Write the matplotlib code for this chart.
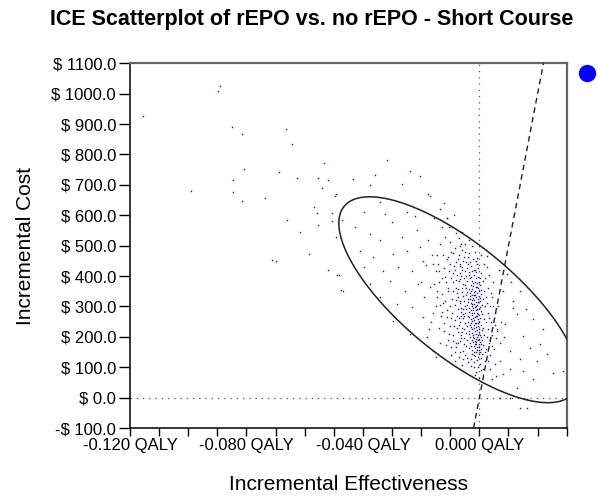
import numpy as np
import matplotlib
matplotlib.use("Agg")
import matplotlib.pyplot as plt

matplotlib.rcParams.update({"font.family": ["Liberation Sans", "DejaVu Sans"]})

title = "ICE Scatterplot of rEPO vs. no rEPO - Short Course"
xLabel = "Incremental Effectiveness"
yLabel = "Incremental Cost"

x_ticks = [-0.12, -0.11, -0.10, -0.09, -0.08, -0.07, -0.06, -0.05, -0.04, -0.03, -0.02, -0.01, 0.0, 0.01, 0.02, 0.03]
x_labels = ["-0.120 QALY", "", "", "", "-0.080 QALY", "", "", "", "-0.040 QALY", "", "", "", "0.000 QALY", "", "", ""]
y_ticks = [-100, 0, 100, 200, 300, 400, 500, 600, 700, 800, 900, 1000, 1100]
y_labels = ["-$ 100.0", "$ 0.0", "$ 100.0", "$ 200.0", "$ 300.0", "$ 400.0", "$ 500.0",
            "$ 600.0", "$ 700.0", "$ 800.0", "$ 900.0", "$ 1000.0", "$ 1100.0"]

wtp = 50000  # willingness to pay per QALY (dashed line)

# ellipse: centre and the two semi-axis vectors (QALY, $)
ell_center = (-0.0071, 322)
ell_major = (0.0393, -308)
ell_minor = (-0.0123, -141)

# outlying simulations (upper left)
outer_x = [-0.0891, -0.0897, -0.1154, -0.0851, -0.0816, -0.0664, -0.0644, -0.0533, -0.0808, -0.0687,
           -0.0627, -0.0553, -0.0519, -0.0541, -0.0847, -0.0990, -0.0847, -0.0816, -0.0736, -0.0492,
           -0.0567, -0.0559, -0.0507, -0.0662, -0.0555, -0.0507, -0.0616, -0.0492, -0.0713, -0.0698,
           -0.0584, -0.0519, -0.0481, -0.0476, -0.0318, -0.0358, -0.0433, -0.0238, -0.0267, -0.0204,
           -0.0375, -0.0175, -0.0496, -0.0473, -0.0490, -0.0467, -0.0170, -0.0135, -0.0110]
outer_y = [1026, 1008, 925, 892, 867, 884, 834, 771, 752, 741,
           721, 721, 716, 689, 716, 680, 675, 648, 656, 669,
           626, 606, 606, 586, 567, 582, 546, 529, 454, 450,
           474, 421, 402, 353, 781, 731, 720, 746, 704, 728,
           698, 671, 665, 583, 402, 352, 665, 620, 590]

# sparse part inside the ellipse (left)
left_x = [-0.0341, -0.0398, -0.0324, -0.0249, -0.0221, -0.0427, -0.0301, -0.0375, -0.0341, -0.0266,
          -0.0215, -0.0410, -0.0364, -0.0295, -0.0249, -0.0204, -0.0398, -0.0330, -0.0278, -0.0232,
          -0.0192, -0.0375, -0.0307, -0.0255, -0.0210, -0.0341, -0.0284, -0.0232, -0.0295, -0.0238,
          -0.0192, -0.0181, -0.0158, -0.0175, -0.0162, -0.0150, -0.0168, -0.0145, -0.0158, -0.0140,
          -0.0172, -0.0135, -0.0150, -0.0128, -0.0155, -0.0185, -0.0190, -0.0200]
left_y = [643, 610, 605, 610, 599, 561, 577, 539, 517, 528,
          550, 484, 462, 473, 484, 495, 429, 418, 429, 418,
          451, 374, 385, 352, 374, 330, 308, 297, 253, 209,
          264, 198, 154, 520, 470, 415, 365, 330, 280, 230,
          225, 180, 135, 560, 590, 435, 330, 380]

# middle band
mid_x = [-0.0062, -0.0085, -0.0071, -0.0098, -0.0054, -0.0112, -0.0065, -0.0088, -0.0058, -0.0103,
         -0.0076, -0.0119, -0.0066, -0.0092, -0.0055, -0.0081, -0.0108, -0.0061, -0.0073, -0.0095,
         -0.0052, -0.0126, -0.0084, -0.0064, -0.0110, -0.0056, -0.0078, -0.0099, -0.0068, -0.0120,
         -0.0087, -0.0058, -0.0075, -0.0104, -0.0063, -0.0090, -0.0053, -0.0079, -0.0115, -0.0066,
         -0.0096, -0.0057, -0.0131, -0.0138, -0.0142, -0.0070, -0.0049, -0.0045, -0.0050, -0.0046,
         -0.0083, -0.0060, -0.0072, -0.0091, -0.0062, -0.0105, -0.0088, -0.0120]
mid_y = [505, 492, 470, 478, 462, 455, 441, 433, 420, 418,
         405, 398, 389, 380, 375, 362, 352, 347, 331, 325,
         318, 312, 304, 295, 288, 276, 270, 262, 250, 244,
         236, 230, 215, 208, 196, 185, 176, 165, 172, 150,
         140, 128, 268, 382, 440, 525, 480, 445, 246, 212,
         120, 108, 358, 410, 270, 560, 600, 640]

spread_x = [-0.0135, -0.0118, -0.0100, -0.0082, -0.0068, -0.0125, -0.0107, -0.0089, -0.0072, -0.0140,
            -0.0122, -0.0101, -0.0084, -0.0067, -0.0130, -0.0113, -0.0097, -0.0080, -0.0063, -0.0146,
            -0.0127, -0.0109, -0.0091, -0.0077, -0.0058, -0.0135, -0.0117, -0.0100, -0.0082, -0.0065,
            -0.0128, -0.0112, -0.0093, -0.0074, -0.0056, -0.0120, -0.0101, -0.0085, -0.0069, -0.0052,
            -0.0108, -0.0092, -0.0076, -0.0060, -0.0096, -0.0080, -0.0066, -0.0052, -0.0085, -0.0070,
            -0.0055, -0.0042, -0.0030, -0.0015, -0.0003, 0.0012, 0.0020, 0.0032, 0.0027, 0.0039,
            0.0033, 0.0046, 0.0052, 0.0044, 0.0057, 0.0026, 0.0015, 0.0004, -0.0015, -0.0048,
            -0.0036, -0.0025, -0.0095, -0.0060, -0.0110, -0.0145, -0.0160, -0.0155, -0.0150, -0.0165]
spread_y = [505, 530, 512, 540, 498, 470, 462, 475, 455, 418,
            428, 440, 420, 432, 395, 380, 395, 386, 400, 350,
            340, 362, 350, 343, 360, 305, 318, 300, 322, 310,
            282, 265, 280, 290, 292, 220, 235, 255, 262, 268,
            190, 205, 228, 215, 165, 180, 185, 195, 150, 135,
            155, 130, 105, 75, 65, 95, 120, 262, 310, 345,
            405, 300, 240, 170, 195, 465, 440, 468, 478, 505,
            520, 498, 560, 545, 590, 470, 440, 375, 300, 250]

# dense core around zero effect
core_x = [-0.0035, -0.0028, -0.0041, -0.0019, -0.0012, -0.0030, -0.0022, -0.0008, -0.0045, -0.0015,
          -0.0033, -0.0005, 0.0002, -0.0026, -0.0011, -0.0038, -0.0018, 0.0004, -0.0029, -0.0007,
          -0.0014, -0.0036, -0.0021, 0.0001, -0.0009, -0.0027, -0.0003, -0.0016, -0.0040, -0.0006,
          -0.0024, -0.0012, 0.0003, -0.0031, -0.0004, -0.0019, -0.0008, 0.0006, -0.0026, -0.0013,
          -0.0002, -0.0033, -0.0017, -0.0006, 0.0005, -0.0022, -0.0010, -0.0029, -0.0015, -0.0003,
          -0.0007, -0.0020, 0.0001, -0.0011, -0.0024, -0.0015, -0.0034, -0.0010, -0.0023, -0.0001,
          -0.0043, -0.0047, -0.0039, -0.0048, -0.0005, -0.0016, -0.0030, -0.0044, -0.0052, -0.0009,
          0.0008, 0.0010, 0.0007, 0.0012, 0.0009, 0.0014, 0.0011, 0.0016, 0.0006, 0.0013,
          -0.0002, -0.0014, 0.0004, -0.0025, -0.0009, 0.0002, -0.0018, -0.0005, 0.0010, -0.0030,
          -0.0036, -0.0025, -0.0013, -0.0020, -0.0008, -0.0032, -0.0004, -0.0017, -0.0026, -0.0011,
          -0.0030, -0.0021, -0.0008, -0.0035, -0.0016, 0.0000, -0.0027, -0.0012, 0.0003, -0.0004]
core_y = [412, 398, 385, 405, 392, 371, 366, 378, 360, 352,
          345, 360, 372, 338, 331, 326, 320, 341, 312, 306,
          298, 295, 287, 318, 280, 272, 292, 265, 268, 258,
          251, 244, 262, 238, 236, 229, 222, 240, 214, 208,
          215, 200, 195, 190, 201, 183, 176, 170, 163, 168,
          157, 150, 184, 193, 226, 247, 282, 314, 327, 335,
          306, 337, 250, 280, 398, 420, 432, 428, 395, 440,
          305, 275, 355, 230, 190, 325, 385, 260, 160, 172,
          142, 137, 130, 145, 123, 110, 118, 100, 145, 127,
          357, 356, 364, 339, 344, 323, 323, 309, 300, 289,
          258, 262, 270, 220, 218, 226, 191, 184, 150, 205]

core2_x = [-0.0031, -0.0022, -0.0040, -0.0055, -0.0013, -0.0048, -0.0060, -0.0037, -0.0026, -0.0010,
           -0.0051, -0.0043, -0.0021, -0.0003, 0.0003, -0.0057, -0.0040, -0.0024, -0.0013, 0.0001,
           -0.0051, -0.0045, -0.0030, -0.0018, -0.0004, 0.0005, -0.0055, -0.0034, -0.0019, -0.0001,
           -0.0044, -0.0028, -0.0010, 0.0008, -0.0053, -0.0037, -0.0021, -0.0007, 0.0002, -0.0042,
           -0.0031, -0.0016, -0.0002, 0.0007, -0.0036, -0.0024, -0.0011, 0.0000, -0.0018, -0.0006,
           -0.0028, -0.0017, -0.0002, -0.0033, -0.0014, 0.0002, -0.0025, -0.0006, -0.0021, -0.0008,
           -0.0029, -0.0018, -0.0006, -0.0023, -0.0014, -0.0019, -0.0009, -0.0001, -0.0012, -0.0024,
           -0.0015, -0.0032, -0.0009, -0.0020, -0.0038, -0.0065, -0.0070, -0.0068, -0.0062, -0.0071,
           -0.0064, -0.0072, -0.0045, -0.0050, -0.0038, -0.0020, -0.0012, 0.0005, 0.0015, 0.0018,
           0.0017, 0.0019, -0.0004, 0.0007, -0.0026, -0.0046, -0.0007, -0.0035, -0.0058, -0.0080]
core2_y = [447, 455, 462, 450, 448, 415, 430, 403, 385, 412,
           372, 348, 376, 382, 395, 333, 316, 307, 303, 298,
           300, 290, 289, 278, 275, 284, 262, 265, 255, 250,
           236, 233, 232, 222, 225, 210, 205, 199, 207, 188,
           180, 176, 177, 178, 162, 158, 150, 158, 140, 133,
           351, 347, 350, 333, 336, 327, 321, 314, 296, 290,
           246, 240, 245, 199, 187, 170, 166, 192, 270, 280,
           382, 392, 363, 420, 438, 410, 385, 318, 282, 240,
           205, 180, 170, 140, 118, 100, 85, 90, 205, 300,
           350, 150, 425, 410, 415, 400, 460, 475, 485, 445]

# right of the core
right_x = [0.0025, 0.0021, 0.0030, 0.0024, 0.0035, 0.0028, 0.0022, 0.0031, 0.0040, 0.0026,
           0.0034, 0.0045, 0.0023, 0.0038, 0.0029, 0.0050, 0.0042, 0.0055, 0.0048, 0.0060,
           0.0036, 0.0052, 0.0065, 0.0070, 0.0058, 0.0043, 0.0075, 0.0068, 0.0080, 0.0085,
           0.0116, 0.0128, 0.0088, 0.0219, 0.0150, 0.0208, 0.0174, 0.0105, 0.0140, 0.0184,
           0.0253, 0.0150, 0.0105, 0.0081, 0.0130, 0.0071, 0.0105, 0.0164, 0.0140, 0.0164,
           0.0287, 0.0198, 0.0232, 0.0071, 0.0061, 0.0095, 0.0116, 0.0140, 0.0160, 0.0185, 0.0110]
right_y = [430, 395, 360, 330, 300, 280, 250, 225, 250, 200,
           180, 205, 160, 140, 120, 160, 330, 280, 380, 225,
           95, 110, 300, 180, 70, 60, 250, 420, 350, 200,
           296, 276, 243, 226, 203, 177, 164, 154, 128, 62,
           81, 88, 95, 78, 32, -1, -1, -4, -34, -34,
           88, 121, 144, 121, 220, 408, 319, 352, 290, 260, 380]

sim_x = outer_x + left_x + mid_x + spread_x + core_x + core2_x + right_x
sim_y = outer_y + left_y + mid_y + spread_y + core_y + core2_y + right_y

fig = plt.figure(figsize=(5.98, 5.0), dpi=100)
ax = fig.add_axes([0.2174, 0.144, 0.7303, 0.7294])

xmin, xmax = -0.12, 0.03
ymin, ymax = -100, 1100

# reference lines
ax.axhline(0, color="#555555", lw=0.9, ls=(0, (1, 4)), zorder=1)
ax.axvline(0, color="#555555", lw=0.9, ls=(0, (1, 4)), zorder=1)

# ellipse
t = np.linspace(0, 2 * np.pi, 400)
ex = ell_center[0] + ell_major[0] * np.cos(t) + ell_minor[0] * np.sin(t)
ey = ell_center[1] + ell_major[1] * np.cos(t) + ell_minor[1] * np.sin(t)
ax.plot(ex, ey, color="#222222", lw=1.1, zorder=3)

# willingness-to-pay line
wx = np.array([ymin / wtp, ymax / wtp])
ax.plot(wx, wx * wtp, color="#222222", lw=1.0, ls=(0, (4, 3)), zorder=3)

# simulations
ax.plot(sim_x, sim_y, "s", ms=1.0, mew=0, color="#1a1a80", zorder=2)

ax.set_xlim(xmin, xmax)
ax.set_ylim(ymin, ymax)
ax.set_xticks(x_ticks)
ax.set_xticklabels(x_labels)
ax.set_yticks(y_ticks)
ax.set_yticklabels(y_labels)
ax.tick_params(axis="x", direction="out", length=6, width=1, labelsize=12, pad=1)
ax.tick_params(axis="y", direction="out", length=8, width=1, labelsize=12, pad=2)

for s in ["left", "bottom"]:
    ax.spines[s].set_color("black")
    ax.spines[s].set_linewidth(1.1)
for s in ["top", "right"]:
    ax.spines[s].set_color("#666666")
    ax.spines[s].set_linewidth(1.6)

ax.set_xlabel(xLabel, fontsize=15, labelpad=16)
ax.set_ylabel(yLabel, fontsize=15, labelpad=12)

fig.text(0.522, 0.962, title, ha="center", va="center", fontsize=15.5, fontweight="bold")

# legend marker
ax.plot([1.046], [0.973], "o", ms=11.5, color="#0000ff", transform=ax.transAxes, clip_on=False)

fig.savefig("out.png", dpi=100)
